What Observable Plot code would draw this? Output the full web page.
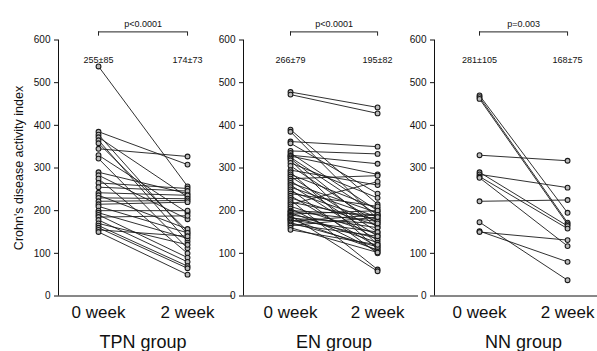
<!DOCTYPE html>
<html><head><meta charset="utf-8">
<script src="https://cdn.jsdelivr.net/npm/d3@7"></script>
<script src="https://cdn.jsdelivr.net/npm/@observablehq/plot@0.6"></script>
<style>
body{margin:0;background:#fff;}
#chart{position:relative;width:597px;height:351px;overflow:hidden;background:#fff;}
#chart svg{position:absolute;top:0;overflow:visible;}
</style></head><body><div id="chart"></div>
<script>
const groups = ["TPN group", "EN group", "NN group"];
const weekLabels = ["0 week", "2 week"];
const weeks = [0, 2];
const yTicks = [0, 100, 200, 300, 400, 500, 600];
const yLabel = "Crohn's disease activity index";

const tpnWeek0 = [538,385,378,372,365,358,345,330,322,290,283,275,265,255,242,236,230,222,215,210,200,195,190,185,178,170,165,160,155,150];
const tpnWeek2 = [257,308,145,232,128,152,327,195,112,240,180,100,252,246,236,157,228,224,220,148,200,135,90,188,80,120,70,65,140,50];

const enWeek0 = [478,472,390,385,362,358,340,335,330,328,325,322,318,312,305,295,290,285,280,275,270,265,260,255,250,245,240,235,230,225,220,215,210,205,200,198,195,192,190,188,185,182,180,178,175,172,168,165,160,155];
const enWeek2 = [442,428,215,180,350,240,333,200,310,285,190,160,120,230,170,260,110,205,150,282,140,195,130,185,100,175,210,115,165,62,180,268,145,105,190,175,125,200,160,58,135,170,108,150,190,115,140,185,102,120];

const nnWeek0 = [470,466,462,330,290,285,280,277,222,173,152,150];
const nnWeek2 = [195,172,168,317,164,254,158,117,225,37,80,131];

const summaryWeek0 = ["255±85", "266±79", "281±105"];
const summaryWeek2 = ["174±73", "195±82", "168±75"];
const pValues = ["p<0.0001", "p<0.0001", "p=0.003"];

const series = [[tpnWeek0, tpnWeek2], [enWeek0, enWeek2], [nnWeek0, nnWeek2]];

// layout (pixels) of each panel
const panels = [
  {left: 0,   width: 232, marginLeft: 58, domain: [-0.899, 3.01]},
  {left: 200, width: 218, marginLeft: 43, domain: [-1.08, 2.94]},
  {left: 390, width: 207, marginLeft: 44, domain: [-1.023, 2.68]}
];

const font = "'Liberation Sans', Arial, Helvetica, sans-serif";
const chart = document.getElementById("chart");

panels.forEach((p, g) => {
  const [w0, w2] = series[g];
  const rows = [];
  w0.forEach((v, i) => {
    rows.push({id: i, week: weeks[0], value: v});
    rows.push({id: i, week: weeks[1], value: w2[i]});
  });
  const stats = [
    {week: weeks[0], text: summaryWeek0[g]},
    {week: weeks[1], text: summaryWeek2[g]}
  ];
  const marks = [
    Plot.ruleX([p.domain[0]], {stroke: "#111", strokeWidth: 1}),
    Plot.ruleY([0], {stroke: "#111", strokeWidth: 1}),
    Plot.axisY({ticks: yTicks, tickSize: 4, tickPadding: 4, fontSize: 10, label: null, stroke: "#111", color: "#111"}),
    Plot.axisX({ticks: weeks, tickFormat: d => weekLabels[weeks.indexOf(d)], tickSize: 0, tickPadding: 10, fontSize: 17, label: null}),
    Plot.line(rows, {x: "week", y: "value", z: "id", stroke: "#1a1a1a", strokeWidth: 0.9}),
    Plot.dot(rows, {x: "week", y: "value", r: 2.4, stroke: "#1a1a1a", fill: "#bbb", strokeWidth: 1.1}),
    Plot.text(stats, {x: "week", text: "text", frameAnchor: "top", dy: 16.5, fontSize: 9, fill: "#111"}),
    Plot.text([pValues[g]], {x: (weeks[0] + weeks[1]) / 2, text: d => d, frameAnchor: "top", dy: -19, fontSize: 9, fill: "#111"}),
    Plot.ruleY([619], {x1: weeks[0], x2: weeks[1], stroke: "#222", strokeWidth: 1}),
    Plot.ruleX(weeks, {y1: 609, y2: 619, stroke: "#222", strokeWidth: 1}),
    Plot.text([groups[g]], {x: (weeks[0] + weeks[1]) / 2, text: d => d, frameAnchor: "bottom", dy: 52, fontSize: 18, fill: "#111"})
  ];
  if (g === 0) {
    marks.push(Plot.text([yLabel], {text: d => d, frameAnchor: "left", textAnchor: "middle", rotate: -90, dx: -40, fontSize: 12.5, fill: "#111"}));
  }
  const svg = Plot.plot({
    width: p.width,
    height: 351,
    marginLeft: p.marginLeft,
    marginRight: 0,
    marginTop: 39.5,
    marginBottom: 55.5,
    x: {type: "linear", domain: p.domain, axis: null},
    y: {domain: [0, 600], axis: null},
    style: {background: "none", overflow: "visible", fontFamily: font, color: "#111"},
    marks
  });
  svg.style.left = p.left + "px";
  chart.appendChild(svg);
});
</script></body></html>
